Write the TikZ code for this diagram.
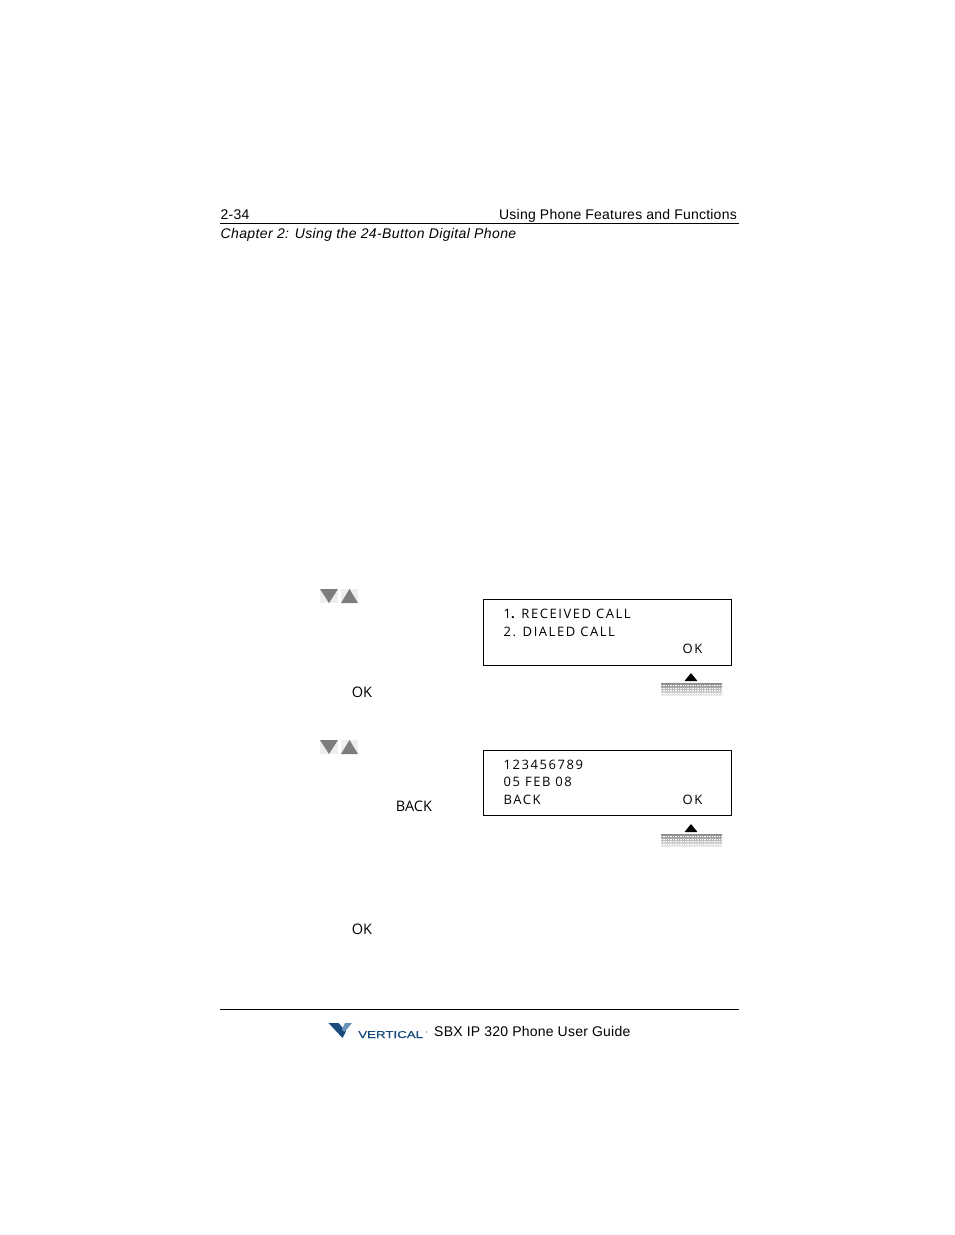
\documentclass[tikz,border=0pt]{standalone}
\usepackage{fontspec}
\setmainfont{Liberation Sans}
\newfontfamily\lcdfont[LetterSpace=12]{Open Sans}
\newfontfamily\bodyfont{Open Sans}
\newfontfamily\headfont[LetterSpace=1.6]{Liberation Sans}
\newfontfamily\chapfont[LetterSpace=2.7,UprightFont=*-Italic]{Liberation Sans}
\newfontfamily\logofont[FakeBold=0.6]{Liberation Sans}
\usetikzlibrary{positioning}
\definecolor{logoblue}{RGB}{25,75,125}
\definecolor{wingblue}{RGB}{105,145,185}
\definecolor{arrowgray}{RGB}{125,125,125}
\definecolor{backgray}{RGB}{238,238,238}
\tikzset{
 headtext/.style={inner sep=0pt,anchor=base west,font=\headfont\fontsize{14}{16}\selectfont},
 lcdtext/.style={inner sep=0pt,anchor=base west,font=\lcdfont\fontsize{13}{15}\selectfont},
 bodytext/.style={inner sep=0pt,anchor=base,font=\bodyfont\fontsize{14.5}{16}\selectfont},
 lcdbox/.style={draw=black,line width=1pt},
 rulerline/.style={draw=black,line width=1pt}
}
\begin{document}
\begin{tikzpicture}[x=1pt,y=-1pt]
 \useasboundingbox (0,0) rectangle (954,1235);
 % header
 \node[headtext] (pagenum) at (220.5,219) {2-34};
 \node[headtext,anchor=base east] (section) at (737,219) {Using Phone Features and Functions};
 \draw[rulerline] (220,223.5)--(739,223.5);
 \node[headtext,font=\chapfont\fontsize{14}{16}\selectfont] (chapter) at (220.5,238) {Chapter 2: Using the 24-Button Digital Phone};
 % first screen
 \draw[lcdbox] (483.5,599.5) rectangle (731.5,665.5);
 \node[lcdtext] (recv) at (503.5,618) {1{\bfseries.} RECEIVED CALL};
 \node[lcdtext] (dial) at (503.5,636) {2. DIALED CALL};
 \node[lcdtext] (okone) at (682.5,653) {OK};
 % second screen
 \draw[lcdbox] (483.5,750.5) rectangle (731.5,815.5);
 \node[lcdtext] (number) at (503.5,769) {123456789};
 \node[lcdtext] (date) at (503.5,786) {05 FEB 08};
 \node[lcdtext] (backlcd) at (503.5,804) {BACK};
 \node[lcdtext] (oktwo) at (682.5,804) {OK};
 % scroll arrows
 \foreach \y in {589,740}{
  \fill[backgray] (320,\y) rectangle (338,\y+14);
  \fill[backgray] (341,\y) rectangle (358,\y+14);
  \fill[arrowgray] (320,\y)--(338,\y)--(329,\y+14)--cycle;
  \fill[arrowgray] (341,\y+14)--(358,\y+14)--(349.5,\y)--cycle;
 }
 % soft keys
 \foreach \y in {673,824}{
  \fill[black,rounded corners=0.5pt] (684.5,\y+8)--(697.5,\y+8)--(691,\y)--cycle;
  \shade[top color=black!45,bottom color=black!8] (661,\y+10) rectangle (722,\y+22);
  \foreach \r in {12.5,15,17.5,20}
   \draw[white,densely dotted,line width=0.7pt] (661,\y+\r)--(722,\y+\r);
 }
 % softkey labels
 \node[bodytext] (okfirst) at (362,697) {OK};
 \node[bodytext] (backkey) at (414,811) {BACK};
 \node[bodytext] (oklast) at (362,934) {OK};
 % footer
 \draw[rulerline] (220,1009.5)--(739,1009.5);
 \fill[logoblue] (328.5,1023)--(338.5,1023)--(346,1031.5)--(342.5,1038)--cycle;
 \fill[wingblue] (342,1029.5)--(345,1023)--(352,1023)--(344.5,1032)--cycle;
 \node[inner sep=0pt,anchor=base west,text=logoblue,xscale=1.33,font=\logofont\fontsize{10}{12}\selectfont] (brand) at (358,1038) {VERTICAL};
 \fill[logoblue] (426.5,1032) circle (0.6);
 \node[headtext] (guide) at (434,1036) {SBX IP 320 Phone User Guide};
\end{tikzpicture}
\end{document}
